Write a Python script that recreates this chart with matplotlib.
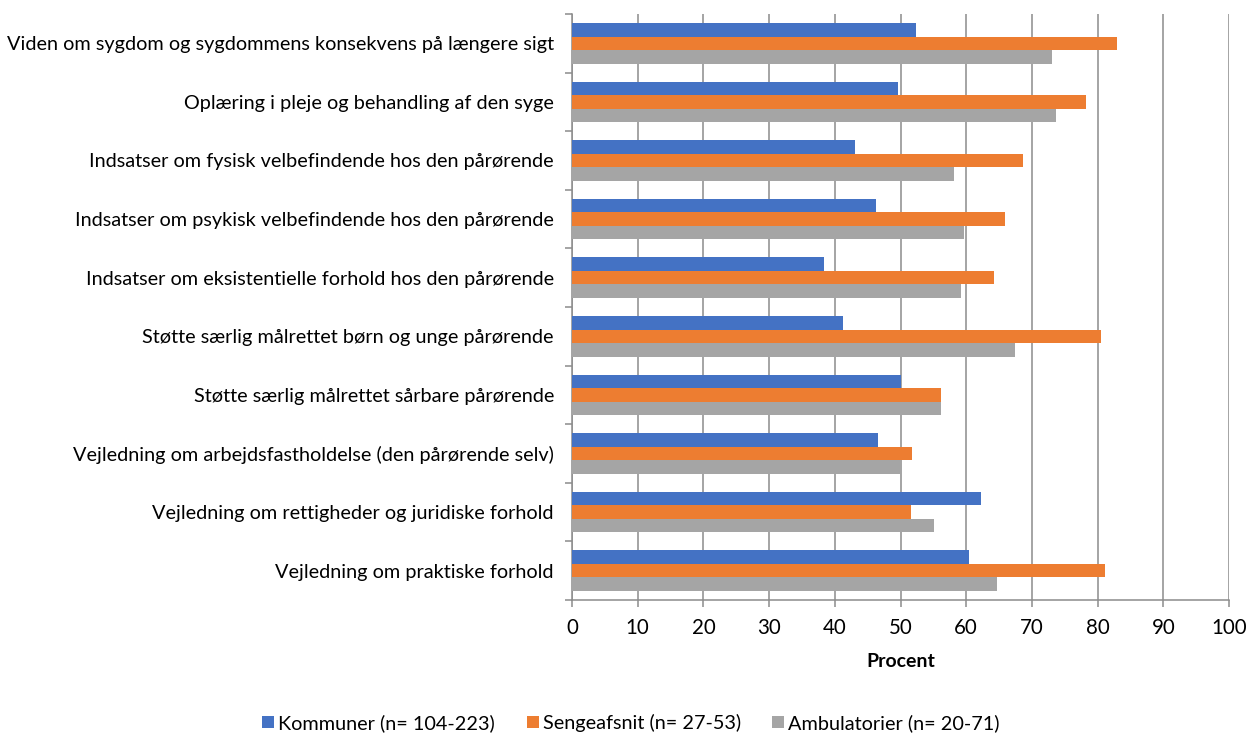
import matplotlib
matplotlib.use("Agg")
import matplotlib.pyplot as plt
import numpy as np
from matplotlib.ticker import FixedLocator, MultipleLocator

plt.rcParams['font.family'] = ['Lato', 'DejaVu Sans']

categories = [
    "Viden om sygdom og sygdommens konsekvens på længere sigt",
    "Oplæring i pleje og behandling af den syge",
    "Indsatser om fysisk velbefindende hos den pårørende",
    "Indsatser om psykisk velbefindende hos den pårørende",
    "Indsatser om eksistentielle forhold hos den pårørende",
    "Støtte særlig målrettet børn og unge pårørende",
    "Støtte særlig målrettet sårbare pårørende",
    "Vejledning om arbejdsfastholdelse (den pårørende selv)",
    "Vejledning om rettigheder og juridiske forhold",
    "Vejledning om praktiske forhold",
]
kommuner = [52.4, 49.6, 43.0, 46.2, 38.4, 41.3, 50.0, 46.5, 62.2, 60.5]
sengeafsnit = [83.0, 78.2, 68.6, 65.9, 64.2, 80.5, 56.2, 51.7, 51.6, 81.2]
ambulatorier = [73.1, 73.7, 58.1, 59.6, 59.2, 67.5, 56.1, 50.0, 55.1, 64.7]

series_names = ["Kommuner (n= 104-223)", "Sengeafsnit (n= 27-53)", "Ambulatorier (n= 20-71)"]
colors = ["#4472C4", "#ED7D31", "#A5A5A5"]
grid_col = "#8C8C8C"

fig = plt.figure(figsize=(12.48, 7.36), dpi=100)
ax = fig.add_axes([572 / 1248, 1 - 600 / 736, (1229 - 572) / 1248, (600 - 14) / 736])

y = np.arange(len(categories))
h = 0.23
for i, (vals, name, col) in enumerate(zip([kommuner, sengeafsnit, ambulatorier], series_names, colors)):
    ax.barh(y + (i - 1) * h, vals, height=h, color=col, label=name, zorder=3)

ax.set_xlim(0, 100)
ax.set_ylim(len(categories) - 0.5, -0.5)
ax.xaxis.set_major_locator(MultipleLocator(10))
ax.grid(axis='x', color=grid_col, linewidth=1.1, zorder=0)

ax.set_yticks(y)
ax.set_yticklabels(categories, fontsize=14.3)
ax.yaxis.set_minor_locator(FixedLocator(np.arange(-0.5, len(categories), 1.0)))
ax.tick_params(axis='y', which='major', length=0, pad=13)
ax.tick_params(axis='y', which='minor', length=5, color=grid_col, width=1.1)
ax.tick_params(axis='x', length=5, color=grid_col, width=1.1, labelsize=14.8, pad=8)

for side in ['top', 'right']:
    ax.spines[side].set_visible(False)
for side in ['left', 'bottom']:
    ax.spines[side].set_color(grid_col)
    ax.spines[side].set_linewidth(1.1)

ax.set_xlabel("Procent", fontsize=14, fontweight='bold', labelpad=11)

fig.legend(loc='center', bbox_to_anchor=(631 / 1248, 1 - 723 / 736), ncol=3, frameon=False,
           fontsize=14.3, handlelength=0.6, handleheight=0.6, handletextpad=0.2, columnspacing=1.6)

fig.savefig("out.png", dpi=100)
